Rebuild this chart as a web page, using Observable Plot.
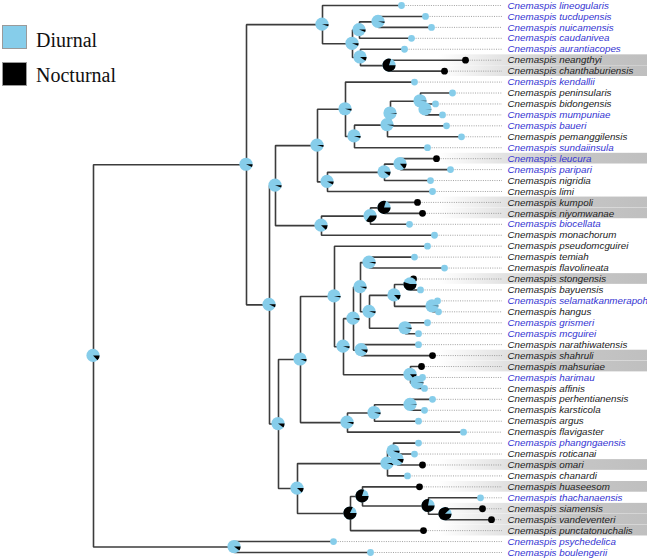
<!DOCTYPE html>
<html><head><meta charset="utf-8">
<script src="https://cdn.jsdelivr.net/npm/d3@7"></script>
<script src="https://cdn.jsdelivr.net/npm/@observablehq/plot@0.6"></script>
<style>
body{margin:0;background:#fff;}
#wrap{position:relative;width:647px;height:558px;overflow:hidden;}
#legend{position:absolute;left:0;top:0;font-family:"Liberation Serif","Times New Roman",serif;font-size:20px;line-height:20px;color:#111;}
.sw{position:absolute;left:2px;width:25px;height:24px;box-sizing:border-box;border:1px solid #9a9a9a;}
.lt{position:absolute;left:36px;white-space:nowrap;}
</style></head>
<body><div id="wrap"></div>
<script>
// ---- data ----
const tipNames = ["lineogularis","tucdupensis","nuicamensis","caudanivea","aurantiacopes","neangthyi","chanthaburiensis","kendallii","peninsularis","bidongensis","mumpuniae","baueri","pemanggilensis","sundaiinsula","leucura","paripari","nigridia","limi","kumpoli","niyomwanae","biocellata","monachorum","pseudomcguirei","temiah","flavolineata","stongensis","bayuensis","selamatkanmerapoh","hangus","grismeri","mcguirei","narathiwatensis","shahruli","mahsuriae","harimau","affinis","perhentianensis","karsticola","argus","flavigaster","phangngaensis","roticanai","omari","chanardi","huaseesom","thachanaensis","siamensis","vandeventeri","punctatonuchalis","psychedelica","boulengerii"];
const tipParents = ["B","G","G","E","F","H","H","M","R","S","S","Q","P","O","U","U","T","N","W","W","V","L","Z","AG","AG","AK","AK","AL","AL","AJ","AJ","AF","AF","AD","AM","AM","AO","AO","AN","AA","AR","AS","AS","AP","AT","AU","AV","AV","AQ","PB","PB"];
const tipDepths = [308,332,338,318,311,372,351,321,359,342,349,353,368,334,343,357,337,339,324,329,316,341,334,321,351,320,327,344,345,334,325,325,339,328,329,331,339,331,325,370,325,321,329,314,326,387,389,398,330,240,277];
const tipNocturnal = [0,0,0,0,0,1,1,0,0,0,0,0,0,0,1,0,0,0,1,1,0,0,0,0,0,1,0,0,0,0,0,0,1,1,0,0,0,0,0,0,0,0,1,0,1,0,1,1,1,0,0];
const tipLabelBlue = [1,1,1,1,1,0,0,1,0,0,1,1,0,1,1,1,0,0,0,0,1,0,0,0,0,0,0,1,0,1,1,0,0,0,1,0,0,0,0,0,1,0,0,0,0,1,0,0,0,1,1];
const genus = "Cnemaspis";

const nodeIds = ["root","A","B","D","E","G","F","H","C","I","K","M","O","P","Q","R","S","N","T","U","L","V","W","J","X","Z","AB","AC","AE","AG","AH","AI","AK","AL","AJ","AF","AD","AM","AA","AN","AO","Y","AP","AR","AS","AQ","AT","AU","AV","PB"];
const nodeParents = [null,"root","A","B","D","E","D","F","A","C","I","K","M","O","P","Q","R","K","N","T","I","L","V","C","J","X","Z","AB","AC","AE","AE","AH","AI","AI","AH","AC","AB","AD","X","AA","AN","J","Y","AP","AR","Y","AQ","AT","AU","root"];
const nodeDepths = [0,153,229,259,266,285,267,296,176,182,224,252,261,294,297,327,332,234,291,307,228,277,291,185,207,241,250,260,267,276,276,301,317,339,312,268,317,324,254,281,317,204,294,300,304,257,269,335,352,141];
const nodeNocturnal = [0.13,0.07,0.05,0.06,0.06,0.04,0.1,0.8,0.07,0.06,0.05,0.05,0.05,0.03,0.02,0.01,0.01,0.08,0.1,0.14,0.12,0.35,0.8,0.1,0.06,0.04,0.05,0.05,0.05,0.04,0.05,0.13,0.55,0.01,0.03,0.08,0.14,0.02,0.05,0.04,0.01,0.12,0.05,0.07,0.1,0.82,0.8,0.78,0.88,0.1];
const stateNames = ["Diurnal","Nocturnal"];

// ---- build tree ----
const DIURNAL = "#86cdea", NOCT = "#000";
const tips = tipNames.map((n,i)=>({name:n, i, y:i, parent:tipParents[i], depth:tipDepths[i], noct:tipNocturnal[i], blue:tipLabelBlue[i]}));
const nodes = nodeIds.map((id,k)=>({id, parent:nodeParents[k], depth:nodeDepths[k], noct:nodeNocturnal[k], kids:[]}));
const byId = new Map(nodes.map(n=>[n.id,n]));
tips.forEach(t=>byId.get(t.parent).kids.push(t));
nodes.forEach(n=>{ if(n.parent) byId.get(n.parent).kids.push(n); });
function setY(n){ if(!n.kids) return n.y; if(n.kids.length===0) return n.y; const ys=n.kids.map(setY); n.y=(Math.min(...ys)+Math.max(...ys))/2; return n.y; }
setY(byId.get("root"));
const edges = [];
nodes.forEach(n=>n.kids.forEach(c=>edges.push({x1:n.depth,y1:n.y,x2:c.depth,y2:c.y})));

const labelDepth = 414, leaderEnd = 409, bandStart = 345, bandEnd = 556;
const nightTips = tips.filter(t=>t.noct);

const defsMark = () => {
  const s = d3.create("svg:defs");
  const lg = s.append("linearGradient").attr("id","bandGrad").attr("x1","0").attr("x2","1").attr("y1","0").attr("y2","0");
  lg.append("stop").attr("offset","0").attr("stop-color","#ffffff");
  lg.append("stop").attr("offset","0.62").attr("stop-color","#c6c6c6");
  lg.append("stop").attr("offset","1").attr("stop-color","#bfbfbf");
  return s.node();
};

const pieMark = (index, scales) => {
  const g = d3.create("svg:g");
  const arc = d3.arc().innerRadius(0);
  for (const n of nodes) {
    const cx = scales.x(n.depth), cy = scales.y(n.y), r = 6.6;
    const gg = g.append("g").attr("transform",`translate(${cx},${cy})`);
    gg.append("circle").attr("r", r).attr("fill", DIURNAL);
    const a0 = Math.PI/2, a1 = a0 + n.noct*2*Math.PI;
    gg.append("path").attr("d", arc({outerRadius:r, startAngle:a0, endAngle:a1})).attr("fill", NOCT);
  }
  return g.node();
};

const chart = Plot.plot({
  width: 647, height: 558,
  marginLeft: 0, marginRight: 0, marginTop: 0, marginBottom: 0,
  x: {domain:[0,554], range:[93,647], axis:null},
  y: {domain:[0,50], range:[5,552], axis:null},
  style: {background:"#fff"},
  marks: [
    defsMark,
    Plot.rect(nightTips, {x1: bandStart, x2: bandEnd, y1: d=>d.y-0.49, y2: d=>d.y+0.49, fill: "url(#bandGrad)"}),
    Plot.ruleY(tips, {y:"y", x1:"depth", x2: leaderEnd, stroke:"#8a8a8a", strokeWidth:0.8, strokeDasharray:"1,1.3"}),
    Plot.link(edges, {x1:"x1", y1:"y1", x2:"x2", y2:"y2", curve:"step-before", stroke:"#3c3c3c", strokeWidth:1.6}),
    Plot.dot(tips, {x:"depth", y:"y", r:3.4, fill: d=>d.noct?NOCT:DIURNAL, stroke:"none"}),
    pieMark,
    Plot.text(tips, {x: labelDepth, y:"y", text: d=>genus+" "+d.name, textAnchor:"start", fontSize:9.8, fontStyle:"italic", fontFamily:"Liberation Sans, Arial, sans-serif", fill: d=>d.blue?"#3434d2":"#222"})
  ]
});
const wrap = document.getElementById("wrap");
wrap.appendChild(chart);
const leg = document.createElement("div");
leg.id = "legend";
leg.innerHTML = `<div class="sw" style="top:25px;background:${DIURNAL}"></div><div class="lt" style="top:30px">${stateNames[0]}</div>
<div class="sw" style="top:62px;background:${NOCT}"></div><div class="lt" style="top:65px">${stateNames[1]}</div>`;
wrap.appendChild(leg);
</script></body></html>
